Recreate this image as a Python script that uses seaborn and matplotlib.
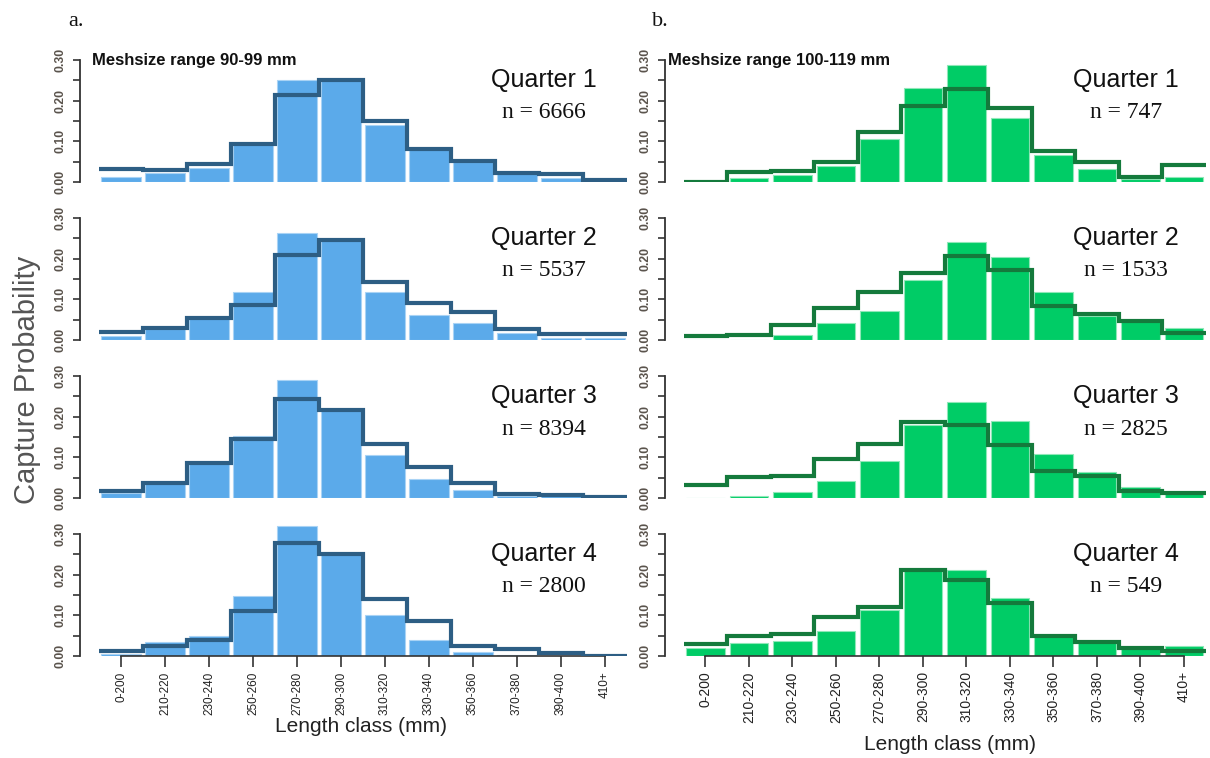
import numpy as np
import pandas as pd
import matplotlib
matplotlib.use("Agg")
import matplotlib.pyplot as plt
import seaborn as sns

# Length classes (x axis)
length_classes = ["0-200", "210-220", "230-240", "250-260", "270-280", "290-300",
                  "310-320", "330-340", "350-360", "370-380", "390-400", "410+"]
quarters = ["Quarter 1", "Quarter 2", "Quarter 3", "Quarter 4"]

# Mesh size 90-99 mm: observed proportions (bars) and model capture probability (steps)
mesh_a_title = "Meshsize range 90-99 mm"
mesh_a_n = [6666, 5537, 8394, 2800]
mesh_a_obs = [
    [0.013, 0.023, 0.034, 0.093, 0.252, 0.250, 0.141, 0.080, 0.049, 0.022, 0.011, 0.002],
    [0.011, 0.026, 0.054, 0.119, 0.263, 0.246, 0.119, 0.061, 0.041, 0.016, 0.006, 0.005],
    [0.012, 0.036, 0.086, 0.152, 0.290, 0.217, 0.106, 0.047, 0.020, 0.006, 0.004, 0.001],
    [0.005, 0.034, 0.049, 0.148, 0.320, 0.252, 0.100, 0.040, 0.011, 0.003, 0.001, 0.000],
]
mesh_a_fit = [
    [0.033, 0.029, 0.045, 0.093, 0.215, 0.250, 0.151, 0.082, 0.052, 0.021, 0.019, 0.005],
    [0.020, 0.030, 0.054, 0.087, 0.209, 0.246, 0.143, 0.090, 0.069, 0.026, 0.015, 0.015],
    [0.016, 0.036, 0.086, 0.146, 0.243, 0.216, 0.134, 0.076, 0.036, 0.011, 0.007, 0.003],
    [0.012, 0.024, 0.039, 0.111, 0.278, 0.252, 0.141, 0.087, 0.024, 0.016, 0.007, 0.001],
]

# Mesh size 100-119 mm
mesh_b_title = "Meshsize range 100-119 mm"
mesh_b_n = [747, 1533, 2825, 549]
mesh_b_obs = [
    [0.000, 0.011, 0.017, 0.039, 0.106, 0.231, 0.288, 0.157, 0.067, 0.031, 0.008, 0.012],
    [0.000, 0.000, 0.012, 0.041, 0.072, 0.147, 0.242, 0.203, 0.119, 0.058, 0.046, 0.029],
    [0.000, 0.006, 0.014, 0.041, 0.092, 0.179, 0.235, 0.190, 0.109, 0.063, 0.028, 0.014],
    [0.020, 0.031, 0.037, 0.061, 0.112, 0.212, 0.212, 0.142, 0.049, 0.035, 0.019, 0.025],
]
mesh_b_fit = [
    [0.001, 0.024, 0.027, 0.048, 0.122, 0.187, 0.228, 0.183, 0.076, 0.050, 0.012, 0.042],
    [0.009, 0.012, 0.038, 0.079, 0.119, 0.164, 0.206, 0.172, 0.083, 0.064, 0.046, 0.016],
    [0.031, 0.051, 0.054, 0.095, 0.132, 0.188, 0.180, 0.131, 0.067, 0.054, 0.017, 0.013],
    [0.030, 0.049, 0.054, 0.096, 0.120, 0.212, 0.186, 0.131, 0.049, 0.035, 0.019, 0.013],
]

sns.set_theme(style="ticks")
plt.rcParams["font.family"] = ["Liberation Sans", "DejaVu Sans"]

W, H = 1210, 758
fig = plt.figure(figsize=(W / 100, H / 100), dpi=100)

YMAX = 0.335
PX_PER_UNIT = 122 / 0.30
row_base = [182, 340, 498, 656]

panels = [
    dict(label="a.", title=mesh_a_title, n=mesh_a_n, obs=mesh_a_obs, fit=mesh_a_fit,
         left=80, right=630, xlim=(-0.932, 11.57), bar="#5BAAEA", edge="#A9D3F5",
         line="#2D5E84", text_x=544, label_x=68, title_x=92, xlab=(361, 726),
         xtick_size=8.5),
    dict(label="b.", title=mesh_b_title, n=mesh_b_n, obs=mesh_b_obs, fit=mesh_b_fit,
         left=665, right=1210, xlim=(-0.93, 11.6), bar="#00CC66", edge="#8FE8B8",
         line="#147A3C", text_x=1126, label_x=652, title_x=668, xlab=(950, 745),
         xtick_size=10),
]

edges = np.arange(len(length_classes) + 1) - 0.5

for p in panels:
    for r in range(4):
        base = row_base[r]
        h = YMAX * PX_PER_UNIT
        ax = fig.add_axes([p["left"] / W, (H - base) / H,
                           (p["right"] - p["left"]) / W, h / H])
        df = pd.DataFrame({"cls": length_classes, "obs": p["obs"][r]})
        sns.barplot(data=df, x="cls", y="obs", order=length_classes, color=p["bar"],
                    saturation=1, width=0.89, edgecolor=p["edge"], linewidth=0.8,
                    ax=ax, zorder=2)
        ax.stairs(p["fit"][r], edges, baseline=None, color=p["line"],
                  linewidth=3.0, zorder=3)
        ax.set_xlim(*p["xlim"])
        ax.set_ylim(0, YMAX)
        ax.set_xlabel("")
        ax.set_ylabel("")
        ax.patch.set_alpha(0)

        yt = np.round(np.arange(0, 0.301, 0.05), 2)
        ax.set_yticks(yt)
        ax.set_yticklabels([f"{v:.2f}" if i % 2 == 0 else "" for i, v in enumerate(yt)],
                           rotation=90, va="center", fontsize=8.8, color="#5A534C",
                           fontweight="bold")
        ax.tick_params(axis="y", length=5, width=1.2, color="#333333", pad=5)
        for s in ["top", "right"]:
            ax.spines[s].set_visible(False)
        ax.spines["left"].set_bounds(0, 0.30)
        ax.spines["left"].set_color("#333333")
        ax.spines["left"].set_linewidth(1.3)

        if r == 3:
            ax.spines["bottom"].set_bounds(0, len(length_classes) - 1)
            ax.spines["bottom"].set_color("#333333")
            ax.spines["bottom"].set_linewidth(1.2)
            ax.set_xticks(range(len(length_classes)))
            ax.set_xticklabels(length_classes, rotation=90, fontsize=p["xtick_size"],
                               color="#222222")
            ax.tick_params(axis="x", length=8, width=1.2, color="#333333", pad=3)
        else:
            ax.spines["bottom"].set_visible(False)
            ax.tick_params(axis="x", bottom=False, labelbottom=False)

        fig.text(p["text_x"] / W, 1 - (80 + 158 * r) / H, quarters[r],
                 ha="center", va="center", fontsize=18, color="#111111")
        fig.text(p["text_x"] / W, 1 - (113 + 158 * r) / H, f"n = {p['n'][r]}",
                 ha="center", va="center", fontsize=17, color="#111111",
                 family=["Liberation Serif", "DejaVu Serif"])

    fig.text(p["title_x"] / W, 1 - 60 / H, p["title"], ha="left", va="center",
             fontsize=12, fontweight="bold", color="#111111")
    fig.text(p["label_x"] / W, 1 - 22 / H, p["label"], ha="left", va="center",
             fontsize=16, color="#111111", family=["Liberation Serif", "DejaVu Serif"])
    fig.text(p["xlab"][0] / W, 1 - p["xlab"][1] / H, "Length class (mm)",
             ha="center", va="center", fontsize=15, color="#222222")

fig.text(27 / W, 1 - 380 / H, "Capture Probability", rotation=90, ha="center",
         va="center", fontsize=21, color="#555555")

fig.savefig("out.png", dpi=100, facecolor="white")
